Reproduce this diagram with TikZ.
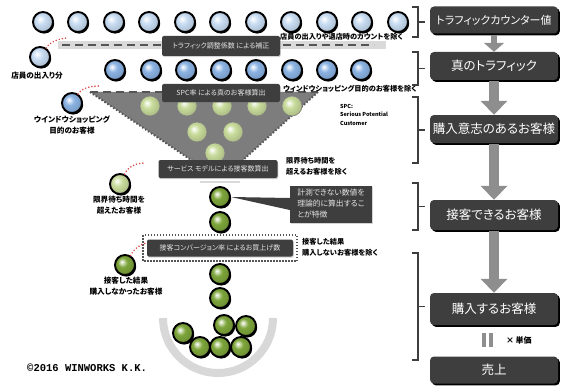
\documentclass[tikz,border=0pt]{standalone}
\usepackage{fontspec}
\usetikzlibrary{arrows.meta,shadows}
\setmainfont{Noto Sans CJK JP}[RawFeature=+palt]
\newfontfamily\monofam{Liberation Mono}

\definecolor{boxdark}{HTML}{3E3E3E}
\definecolor{boxtext}{HTML}{E4E4E4}
\definecolor{paleblue}{HTML}{C8DCF2}
\definecolor{midblue}{HTML}{8AB2E2}
\definecolor{lime}{HTML}{C9DC9C}
\definecolor{leaf}{HTML}{7DA53A}
\definecolor{funnelgray}{HTML}{7D7D7D}
\definecolor{edgegray}{HTML}{555555}
\definecolor{bandgray}{HTML}{DADADA}
\definecolor{arrowgray}{HTML}{8E8E8E}
\definecolor{dotred}{HTML}{D8433C}
\definecolor{bowlgray}{HTML}{D8D8D8}

% glossy sphere: white highlight top-left, body colour, slightly darker rim
\colorlet{orbtone}{paleblue}
\pgfdeclareradialshading[orbtone]{orbshade}{\pgfpoint{-8bp}{8bp}}{%
  color(0bp)=(white); color(3bp)=(orbtone!25!white); color(12bp)=(orbtone);
  color(26bp)=(orbtone!88!black); color(34bp)=(orbtone!72!black);
  color(60bp)=(orbtone!72!black)}

\tikzset{
  every node/.style={inner sep=0pt},
  orb tone/.code={\colorlet{orbtone}{#1}},
  orb/.style={circle, minimum size=20pt, draw=black, line width=1.9pt,
    shading=orbshade,
    general shadow={fill=black, shadow xshift=1.2pt, shadow yshift=-1.6pt}},
  orbpale/.style={orb tone=paleblue, orb},
  orbblue/.style={orb tone=midblue, orb},
  orblime/.style={orb tone=lime, orb},
  orbgreen/.style={orb tone=leaf, orb},
  orbfunnel/.style={orb tone=lime, circle, minimum size=20pt, draw=black!50,
    line width=0.6pt, shading=orbshade},
  tag/.style={fill=boxdark, rounded corners=2pt, text=boxtext,
    font=\fontsize{7}{7.5}\selectfont,
    drop shadow={shadow xshift=0.8pt, shadow yshift=-1.2pt, opacity=0.35}},
  stagebox/.style={fill=boxdark, rounded corners=4pt, minimum width=128pt,
    minimum height=28pt, text=white, font=\fontsize{12.5}{13}\selectfont,
    general shadow={fill=black, shadow xshift=1.8pt, shadow yshift=-1.8pt}},
  note/.style={font=\bfseries\fontsize{7.2}{8}\selectfont, align=left, text=black},
  caption/.style={font=\bfseries\fontsize{7.6}{11}\selectfont, align=center, text=black},
  flowarrow/.style={draw=arrowgray, line width=10pt, -{Triangle[width=26pt,length=14pt]}},
  bracket/.style={draw=boxdark, line width=1.1pt},
  reddots/.style={draw=dotred, line width=1.7pt, line cap=round, dash pattern=on 0pt off 3.2pt},
  dashrule/.style={draw=edgegray, line width=2pt, dash pattern=on 8pt off 5pt},
}

\begin{document}
\begin{tikzpicture}[x=1pt,y=-1pt]
\useasboundingbox (0,0) rectangle (561,385);

% ---------- adjustment band under the traffic counter row ----------
\fill[bandgray] (58,41) rectangle (386,49);
\draw[dashrule] (62,45) -- (374,45);

% ---------- SPC funnel ----------
\fill[funnelgray] (90,92) -- (318,92) -- (232,170) -- (206,170) -- cycle;
\draw[edgegray, line width=2pt, dash pattern=on 1.5pt off 2pt] (90,92) -- (206,170);
\draw[edgegray, line width=2pt, dash pattern=on 1.5pt off 2pt] (318,92) -- (232,170);
\draw[dashrule] (90,92) -- (318,92);

% ---------- row 1: traffic counter ----------
\foreach \x [count=\i] in {43,78,114,149,185,220,256,291,327,362,398}
  \node[orbpale] (t\i) at (\x,22) {};

% ---------- row 2: true traffic ----------
\foreach \x [count=\i] in {115,151,186,221,256,292,327,361}
  \node[orbblue] (r\i) at (\x,70) {};

% ---------- customers inside the funnel ----------
\foreach \x [count=\i] in {150,187,222,257,292}
  \node[orbfunnel] (f\i) at (\x,106) {};
\node[orbfunnel] (f6) at (197,132) {};
\node[orbfunnel] (f7) at (233,132) {};
\node[orbfunnel] (f8) at (215,153) {};

% ---------- dark tags ----------
\node[tag, minimum width=118pt, minimum height=20pt] (tagA) at (221,46) {トラフィック調整係数\ による補正};
\node[tag, minimum width=118pt, minimum height=18pt] (tagB) at (221,93) {SPC率\ による真のお客様算出};
\node[tag, minimum width=119pt, minimum height=18pt] (tagC) at (218,169) {サービス\ モデルによる接客数算出};
\fill[bandgray] (200,181) rectangle (240,183);

\draw[edgegray, line width=1.5pt, dash pattern=on 1.5pt off 1.5pt] (143,235) rectangle (297,261);
\node[tag, minimum width=146pt, minimum height=17pt] (tagD) at (220,248) {接客コンバージョン率\ によるお買上げ数};

% ---------- removed customers (left) ----------
\node[orbpale] (L1) at (40,57) {};
\node[caption] (L1t) at (37,76) {店員の出入り分};
\node[orbblue] (L2) at (72,103) {};
\node[caption] (L2t) at (72,125) {ウインドウショッピング\\目的のお客様};
\node[orblime] (L3) at (120,184) {};
\node[caption] (L3t) at (119,205) {限界待ち時間を\\超えたお客様};
\node[orbgreen] (L4) at (125,265) {};
\node[caption] (L4t) at (126,286) {接客した結果\\購入しなかったお客様};

\coordinate (e1) at (68,38);
\coordinate (e2) at (99,86);
\coordinate (e3) at (144,163);
\coordinate (e4) at (146,243);
\draw[reddots] (L1.55) .. controls +(3,-6) and +(-8,0) .. (e1);
\draw[reddots] (L2.55) .. controls +(3,-6) and +(-8,0) .. (e2);
\draw[reddots] (L3.65) .. controls +(3,-7) and +(-8,0) .. (e3);
\draw[reddots] (L4.60) .. controls +(3,-6) and +(-6,1) .. (e4);

% ---------- removal notes ----------
\node[note, anchor=west] (n1) at (280,37) {店員の出入りや退店時のカウントを除く};
\node[note, anchor=west] (n2) at (283,89) {ウィンドウショッピング目的のお客様を除く};
\node[note, anchor=north west, font=\bfseries\fontsize{5.5}{8.5}\selectfont] (n3) at (340,104) {SPC:\\Serious Potential\\Customer};
\node[note, anchor=north west, font=\bfseries\fontsize{7.2}{11}\selectfont] (n4) at (286,157) {限界待ち時間を\\超えるお客様を除く};
\node[note, anchor=north west, font=\bfseries\fontsize{7.2}{11}\selectfont] (n5) at (302,238) {接客した結果\\購入しないお客様を除く};

% ---------- served customers ----------
\node[orbgreen] (s1) at (220,197) {};
\node[orbgreen] (s2) at (220,222) {};
\node[fill=boxdark, minimum width=82pt, minimum height=37pt, text=boxtext, align=left,
      font=\fontsize{7.8}{11}\selectfont,
      drop shadow={shadow xshift=0.8pt, shadow yshift=-1.2pt, opacity=0.35}] (call) at (331,204)
      {計測できない数値を\\理論的に算出するこ\\とが特徴};
\fill[boxdark] (s1.east) -- ([yshift=6pt]call.west) -- ([yshift=-6pt]call.west) -- cycle;

% ---------- buyers in the bowl ----------
\draw[bowlgray, line width=8pt] (273,318) arc[start angle=0, end angle=180, radius=55];
\node[orbgreen] (b1) at (220,274) {};
\node[orbgreen] (b2) at (220,298) {};
\node[orbgreen] (b3) at (224,325) {};
\node[orbgreen] (b4) at (246,326) {};
\node[orbgreen] (b5) at (183,333) {};
\node[orbgreen] (b6) at (200,347) {};
\node[orbgreen] (b7) at (220,347) {};
\node[orbgreen] (b8) at (241,347) {};

\node[anchor=west, font=\monofam\bfseries\fontsize{10.5}{11}\selectfont] (copy) at (27,368) {©2016 WINWORKS K.K.};

% ---------- stage flow (right) ----------
\node[stagebox, minimum height=27pt, font=\fontsize{11}{12}\selectfont] (st1) at (494,20) {トラフィックカウンター値};
\node[stagebox] (st2) at (494,66) {真のトラフィック};
\node[stagebox] (st3) at (494,129) {購入意志のあるお客様};
\node[stagebox, minimum height=30pt] (st4) at (494,215) {接客できるお客様};
\node[stagebox, minimum height=32pt] (st5) at (494,309) {購入するお客様};
\node[stagebox, minimum height=27pt] (st6) at (494,370) {売上};

\draw[flowarrow, line width=6pt, -{Triangle[width=20pt,length=9pt]}] ([yshift=-1pt]st1.south) -- (st2.north);
\draw[flowarrow] ([yshift=-1pt]st2.south) -- (st3.north);
\draw[flowarrow] ([yshift=-1pt]st3.south) -- (st4.north);
\draw[flowarrow] ([yshift=-1pt]st4.south) -- (st5.north);

\fill[arrowgray] (482,333) rectangle (486,347);
\fill[arrowgray] (489,333) rectangle (493,347);
\node[note, anchor=west, font=\bfseries\fontsize{8}{9}\selectfont] (price) at (506,340) {×\,単価};

% ---------- brackets tying each stage to its rows ----------
\foreach \top/\bot/\i in {7/37/1, 52/85/2, 97/163/3, 183/230/4, 253/360/5} {
  \draw[bracket] (412,\top) -- (418,\top) -- (418,\bot) -- (412,\bot);
  \coordinate (k\i) at (418,{(\top+\bot)/2});
}
\foreach \i in {1,...,5}
  \draw[bracket, shorten >=5pt] (k\i) -- (k\i -| st\i.west);

\end{tikzpicture}
\end{document}
